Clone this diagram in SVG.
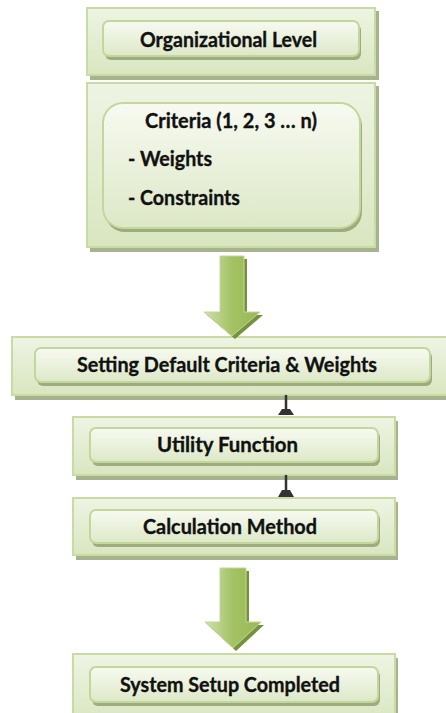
<svg xmlns="http://www.w3.org/2000/svg" width="446" height="713" viewBox="0 0 446 713">
  <defs>
    <linearGradient id="outerFill" x1="0" y1="0" x2="0" y2="1">
      <stop offset="0" stop-color="#eef4e3"/>
      <stop offset="1" stop-color="#d9e6c0"/>
    </linearGradient>
    <linearGradient id="innerFill" x1="0" y1="0" x2="0" y2="1">
      <stop offset="0" stop-color="#f7faf1"/>
      <stop offset="1" stop-color="#dde8c7"/>
    </linearGradient>
    <linearGradient id="arrowFill" x1="0" y1="0" x2="1" y2="0">
      <stop offset="0" stop-color="#cfe0ad"/>
      <stop offset="0.5" stop-color="#a3c263"/>
      <stop offset="1" stop-color="#98b956"/>
    </linearGradient>
  </defs>
  <style>
    .outer { fill: url(#outerFill); stroke: #c8dba3; stroke-width: 2; }
    .outerShadow { fill: #a7b38f; }
    .inner { fill: url(#innerFill); stroke: #c3d69b; stroke-width: 2; }
    .innerShadow { fill: #9dac7e; }
    .label { font-family: Lato, "Open Sans", "Liberation Sans", sans-serif; font-weight: bold; font-size: 20.5px; fill: #111; stroke: #111; stroke-width: 0.35; }
    .arrow { fill: url(#arrowFill); stroke: #c3d69b; stroke-width: 1; }
    .arrowShadow { fill: #76923c; }
    .conn { stroke: #333; stroke-width: 2.5; }
    .connHead { fill: #333; }
  </style>

  <!-- Organizational Level -->
  <g id="org-level">
    <rect class="outerShadow" x="90" y="11" width="289" height="69"/>
    <rect class="outer" x="87" y="8" width="288" height="67"/>
    <rect class="innerShadow" x="105" y="24" width="256" height="36" rx="6"/>
    <rect class="inner" x="103" y="21" width="256" height="35" rx="6"/>
    <text class="label" x="140" y="47" textLength="177" lengthAdjust="spacingAndGlyphs">Organizational Level</text>
  </g>

  <!-- Criteria -->
  <g id="criteria">
    <rect class="outerShadow" x="90" y="86" width="289" height="166"/>
    <rect class="outer" x="87" y="83" width="288" height="164"/>
    <rect class="innerShadow" x="105" y="106" width="257" height="126" rx="20"/>
    <rect class="inner" x="103" y="103" width="257" height="125" rx="20"/>
    <text class="label" x="145" y="128" textLength="172" lengthAdjust="spacingAndGlyphs">Criteria (1, 2, 3 … n)</text>
    <text class="label" x="128" y="166" textLength="84" lengthAdjust="spacingAndGlyphs">- Weights</text>
    <text class="label" x="128" y="205" textLength="112" lengthAdjust="spacingAndGlyphs">- Constraints</text>
  </g>

  <!-- Setting Default Criteria & Weights -->
  <g id="default-criteria">
    <rect class="outerShadow" x="15" y="340" width="436" height="60"/>
    <rect class="outer" x="12" y="337" width="440" height="58"/>
    <rect class="innerShadow" x="37" y="351" width="395" height="35" rx="6"/>
    <rect class="inner" x="35" y="348" width="395" height="34" rx="6"/>
    <text class="label" x="77" y="372" textLength="300" lengthAdjust="spacingAndGlyphs">Setting Default Criteria &amp; Weights</text>
  </g>

  <!-- Utility Function -->
  <g id="utility-function">
    <rect class="outerShadow" x="76" y="421" width="322" height="59"/>
    <rect class="outer" x="73" y="417" width="322" height="58"/>
    <rect class="innerShadow" x="92" y="431" width="288" height="35" rx="6"/>
    <rect class="inner" x="90" y="428" width="288" height="34" rx="6"/>
    <text class="label" x="157" y="452" textLength="141" lengthAdjust="spacingAndGlyphs">Utility Function</text>
  </g>

  <!-- Calculation Method -->
  <g id="calculation-method">
    <rect class="outerShadow" x="76" y="502" width="322" height="58"/>
    <rect class="outer" x="73" y="498" width="322" height="57"/>
    <rect class="innerShadow" x="92" y="513" width="288" height="34" rx="6"/>
    <rect class="inner" x="90" y="510" width="288" height="33" rx="6"/>
    <text class="label" x="143" y="534" textLength="174" lengthAdjust="spacingAndGlyphs">Calculation Method</text>
  </g>

  <!-- System Setup Completed -->
  <g id="setup-completed">
    <rect class="outerShadow" x="76" y="658" width="322" height="70"/>
    <rect class="outer" x="73" y="654" width="322" height="70"/>
    <rect class="innerShadow" x="92" y="670" width="288" height="36" rx="6"/>
    <rect class="inner" x="90" y="667" width="288" height="35" rx="6"/>
    <text class="label" x="120" y="692" textLength="220" lengthAdjust="spacingAndGlyphs">System Setup Completed</text>
  </g>

  <!-- Connectors -->
  <g id="connectors">
    <!-- block arrow: Criteria to Setting Default Criteria -->
    <polygon class="arrowShadow" points="223,259 247,259 247,315 263,315 235,339 207,315 223,315"/>
    <polygon class="arrow" points="220,256 244,256 244,312 260,312 232,336 204,312 220,312"/>
    <!-- thin arrow: Setting Default Criteria to Utility Function -->
    <line class="conn" x1="286" y1="395" x2="286" y2="410"/>
    <polygon class="connHead" points="282,409 290,409 294,415 278,415"/>
    <!-- thin arrow: Utility Function to Calculation Method -->
    <line class="conn" x1="286" y1="475" x2="286" y2="491"/>
    <polygon class="connHead" points="282,490 290,490 294,497 278,497"/>
    <!-- block arrow: Calculation Method to System Setup Completed -->
    <polygon class="arrowShadow" points="223,571 249,571 249,625 264,625 236,651 208,625 223,625"/>
    <polygon class="arrow" points="220,568 246,568 246,622 261,622 233,648 205,622 220,622"/>
  </g>
</svg>
